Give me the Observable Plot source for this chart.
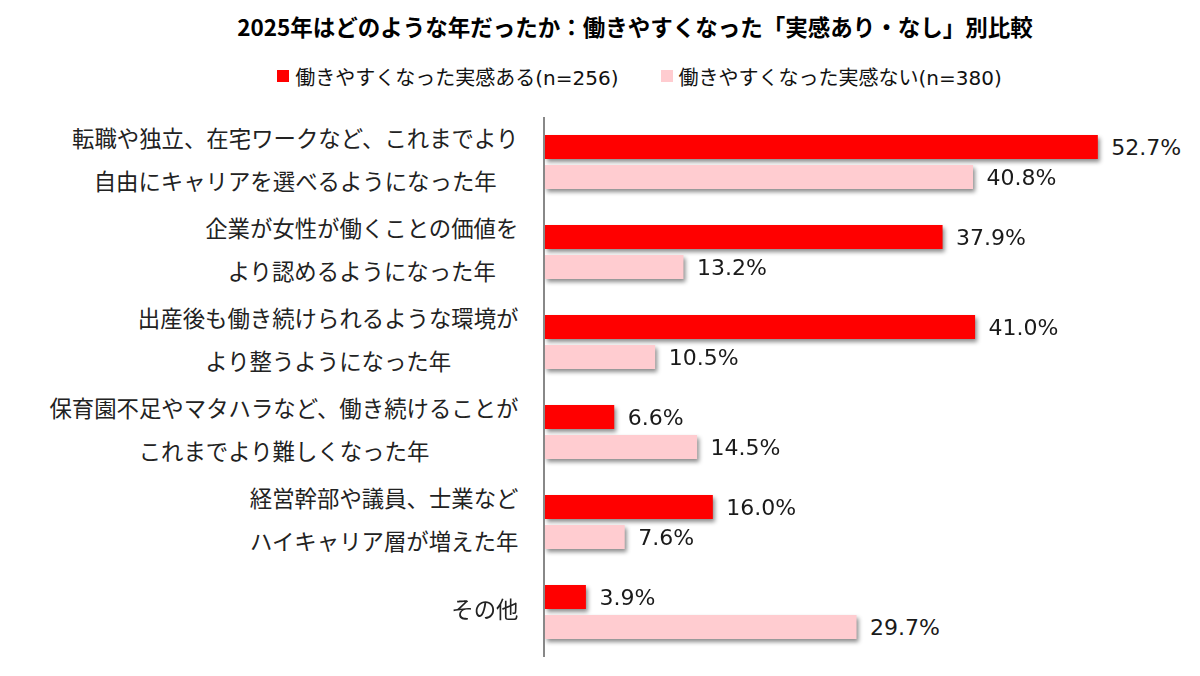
<!DOCTYPE html>
<html><head><meta charset="utf-8">
<script src="https://cdn.jsdelivr.net/npm/d3@7"></script>
<script src="https://cdn.jsdelivr.net/npm/@observablehq/plot@0.6"></script>
<style>
body{margin:0;background:#fff;width:1200px;height:676px;overflow:hidden;font-family:"DejaVu Sans","Noto Sans CJK JP",sans-serif;}
#title{margin-left:70px;width:1130px;height:52px;line-height:52px;text-align:center;font-family:"Noto Sans CJK JP",sans-serif;font-weight:bold;font-size:22.5px;color:#000;}
#legend{margin-left:79px;width:1121px;height:48px;display:flex;justify-content:center;align-items:center;font-size:20px;color:#111;font-family:"DejaVu Sans","Noto Sans CJK JP",sans-serif;}
.item{display:flex;align-items:center;margin:0 21px;}
.sw{width:12px;height:12px;margin-right:6px;}
#chart svg{display:block;}
#chart g[aria-label="bar"]{filter:drop-shadow(2px 3px 2px rgba(0,0,0,0.45));}
</style>
</head><body>
<div id="title"></div>
<div id="legend"></div>
<div id="chart"></div>
<script>
const titleText = "2025年はどのような年だったか：働きやすくなった「実感あり・なし」別比較";
const series = ["働きやすくなった実感ある(n=256)", "働きやすくなった実感ない(n=380)"];
const colors = ["#ff0000", "#ffccd0"];
const labels1 = ["転職や独立、在宅ワークなど、これまでより", "企業が女性が働くことの価値を", "出産後も働き続けられるような環境が", "保育園不足やマタハラなど、働き続けることが", "経営幹部や議員、士業など", "その他"];
const labels2 = ["自由にキャリアを選べるようになった年", "より認めるようになった年", "より整うようになった年", "これまでより難しくなった年", "ハイキャリア層が増えた年", ""];
const yesValues = [52.7, 37.9, 41.0, 6.6, 16.0, 3.9];
const noValues = [40.8, 13.2, 10.5, 14.5, 7.6, 29.7];

document.getElementById("title").textContent = titleText;
const legend = document.getElementById("legend");
series.forEach((s, i) => {
  const it = document.createElement("div"); it.className = "item";
  const sw = document.createElement("div"); sw.className = "sw"; sw.style.background = colors[i];
  const tx = document.createElement("span"); tx.textContent = s;
  it.appendChild(sw); it.appendChild(tx); legend.appendChild(it);
});

const cats = labels1.map((l, i) => l + "|" + labels2[i]);
const rows = [];
cats.forEach((c, i) => {
  rows.push({cat: c, series: series[0], value: yesValues[i]});
  rows.push({cat: c, series: series[1], value: noValues[i]});
});

const labelFont = 22.4;
const ctx = document.createElement("canvas").getContext("2d");
ctx.font = `${labelFont}px "Noto Sans CJK JP"`;
const labelMarks = cats.map((c, i) => {
  const lines = [labels1[i], labels2[i]].filter(d => d);
  const w = Math.max(...lines.map(l => ctx.measureText(l).width));
  return Plot.text([{cat: c, text: lines.join("\n")}], {
    fy: "cat", text: "text", frameAnchor: "left", textAnchor: "middle",
    dx: -(27 + w / 2), dy: -8, lineHeight: 43 / labelFont, fontSize: labelFont,
    fontFamily: "Noto Sans CJK JP", fill: "#222"
  });
});

const chart = Plot.plot({
  width: 1200, height: 576,
  marginLeft: 545, marginRight: 25.6, marginTop: 17, marginBottom: 19,
  x: {domain: [0, 60], axis: null},
  y: {domain: series, axis: null, paddingInner: 0.2, paddingOuter: 0.1},
  fy: {domain: cats, axis: null, paddingInner: 1/3, paddingOuter: 1/6},
  color: {domain: series, range: colors},
  marks: [
    Plot.barX(rows, {fy: "cat", y: "series", x: "value", fill: "series"}),
    Plot.text(rows, {fy: "cat", y: "series", x: "value", text: d => d.value.toFixed(1) + "%",
      textAnchor: "start", dx: 13, fontSize: 22, fontFamily: "DejaVu Sans", fill: "#1a1a1a"}),
    Plot.ruleX([0], {insetTop: -15, insetBottom: -15, stroke: "#888", strokeWidth: 2, dx: -1.5}),
    ...labelMarks
  ]
});
document.getElementById("chart").appendChild(chart);
</script>
</body></html>
